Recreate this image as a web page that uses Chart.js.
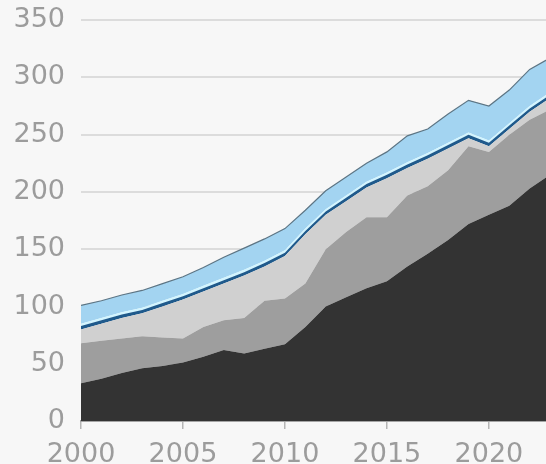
<!DOCTYPE html>
<html>
<head>
<meta charset="utf-8">
<script src="https://cdn.jsdelivr.net/npm/chart.js@4"></script>
<style>
    html, body { margin: 0; padding: 0; background: #f7f7f7; overflow: hidden; }
    #wrap { width: 546px; height: 464px; overflow: hidden; }
    #myChart { display: block; margin-top: -12px; }
</style>
</head>
<body>
<div id="wrap"><canvas id="myChart" width="546" height="476"></canvas></div>
<script>
var ctx = document.getElementById('myChart').getContext('2d');

// anos (eixo x)
var years = [2000, 2001, 2002, 2003, 2004, 2005, 2006, 2007, 2008, 2009, 2010, 2011,
             2012, 2013, 2014, 2015, 2016, 2017, 2018, 2019, 2020, 2021, 2022, 2023];

// séries empilhadas, de baixo para cima
var darkSeries  = [33, 37, 42, 46, 48, 51, 56, 62, 59, 63, 67, 82, 100, 108, 116, 122, 135, 146, 158, 172, 180, 188, 203, 215];
var midSeries   = [35, 33, 30, 28, 25, 21, 26, 26, 31, 42, 40, 38, 50, 57, 62, 56, 62, 59, 61, 68, 55, 62, 60, 57];
var lightSeries = [12, 15, 18, 20, 27, 34, 31, 32, 37, 30, 37, 43, 30, 27, 26, 34, 24, 24, 19, 7, 5, 5, 7, 10];
var navySeries  = [3, 3, 3, 3, 3, 3, 3, 3, 3, 3, 3, 3, 3, 3, 3, 3, 3, 3, 3, 3, 3, 3, 3, 3];
var cyanSeries  = [2, 2, 2, 2, 2, 2, 2, 2, 2, 2, 2, 2, 2, 2, 2, 2, 2, 2, 2, 2, 2, 2, 2, 2];
var blueSeries  = [16, 15, 15, 15, 15, 15, 16, 18, 19, 19, 19, 16, 16, 16, 16, 18, 23, 21, 25, 28, 30, 29, 32, 30];

// ticks
var yTicks = [0, 50, 100, 150, 200, 250, 300, 350];
var xTicks = [2000, 2005, 2010, 2015, 2020];

function toPoints(values) {
    return values.map(function (v, i) { return { x: years[i], y: v }; });
}

function area(values, color, fill) {
    return {
        data: toPoints(values),
        backgroundColor: color,
        borderWidth: 0,
        pointRadius: 0,
        tension: 0,
        fill: fill
    };
}

var blue = area(blueSeries, '#a3d4f1', '-1');
blue.borderWidth = 1.2;
blue.borderColor = '#5d7584';

var labelFont = { family: 'DejaVu Sans', size: 27 };

var config = {
    type: 'line',
    data: {
        datasets: [
            area(darkSeries, '#333333', 'origin'),
            area(midSeries, '#9e9e9e', '-1'),
            area(lightSeries, '#d0d0d0', '-1'),
            area(navySeries, '#1f5a8c', '-1'),
            area(cyanSeries, '#d2f5ff', '-1'),
            blue
        ]
    },
    options: {
        responsive: false,
        animation: false,
        layout: { padding: { top: 8, right: 0, bottom: 0, left: 0 } },
        plugins: {
            legend: { display: false },
            tooltip: { enabled: false }
        },
        scales: {
            x: {
                type: 'linear',
                min: 2000,
                max: 2022.8,
                afterBuildTicks: function (scale) {
                    scale.ticks = xTicks.map(function (v) { return { value: v }; });
                },
                afterFit: function (scale) { scale.height = 43; },
                grid: { drawOnChartArea: false, drawTicks: true, tickLength: 8, color: '#b5b5b5', lineWidth: 1.5 },
                border: { display: true, color: '#a5a5a5', width: 2 },
                ticks: {
                    color: '#9c9c9c',
                    font: labelFont,
                    padding: 10,
                    maxRotation: 0,
                    autoSkip: false,
                    callback: function (v) { return String(v); }
                }
            },
            y: {
                stacked: true,
                min: 0,
                max: 350,
                afterBuildTicks: function (scale) {
                    scale.ticks = yTicks.map(function (v) { return { value: v }; });
                },
                afterFit: function (scale) { scale.width = 81; },
                grid: { drawTicks: false, color: '#dcdcdc', lineWidth: 2 },
                border: { display: false },
                ticks: {
                    color: '#9c9c9c',
                    font: labelFont,
                    padding: 16
                }
            }
        }
    }
};

var chart = new Chart(ctx, config);
</script>
</body>
</html>
